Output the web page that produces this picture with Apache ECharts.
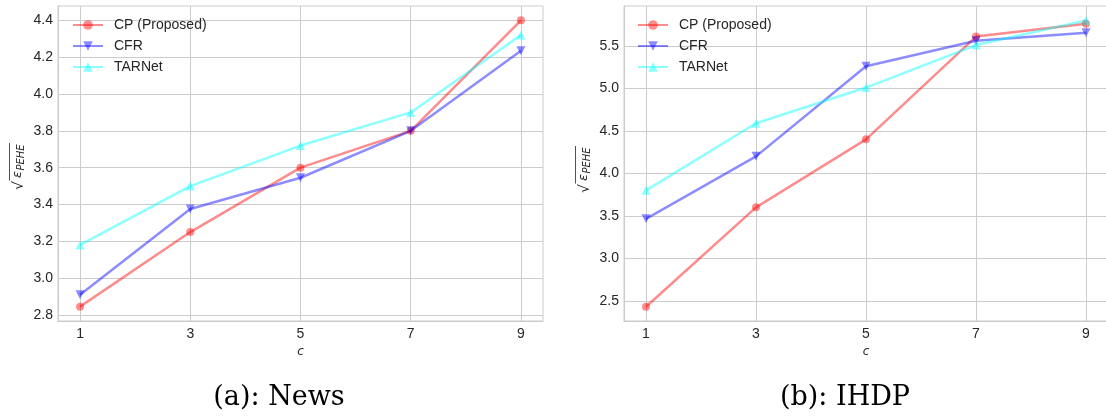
<!DOCTYPE html>
<html>
<head>
<meta charset="utf-8">
<script src="https://cdn.jsdelivr.net/npm/echarts@6/dist/echarts.min.js"></script>
<style>
html,body{margin:0;padding:0;background:#fff;}
#chart{width:1106px;height:418px;}
</style>
</head>
<body>
<div id="chart"></div>
<script>
// ---- data ----
const cValues = [1, 3, 5, 7, 9];
const xTicks = [1, 3, 5, 7, 9];
const seriesNames = ['CP (Proposed)', 'CFR', 'TARNet'];

const newsCP = [2.845, 3.25, 3.60, 3.80, 4.40];
const newsCFR = [2.91, 3.375, 3.545, 3.80, 4.235];
const newsTAR = [3.18, 3.50, 3.72, 3.90, 4.32];
const newsYTicks = [2.8, 3.0, 3.2, 3.4, 3.6, 3.8, 4.0, 4.2, 4.4];

const ihdpCP = [2.43, 3.60, 4.40, 5.61, 5.76];
const ihdpCFR = [3.465, 4.20, 5.26, 5.56, 5.655];
const ihdpTAR = [3.80, 4.59, 5.01, 5.51, 5.80];
const ihdpYTicks = [2.5, 3.0, 3.5, 4.0, 4.5, 5.0, 5.5];

const captions = ['(a): News', '(b): IHDP'];

// ---- build ----
const colors = ['rgb(255,0,0)', 'rgb(0,0,255)', 'rgb(0,255,255)'];
const symbols = ['circle', 'triangle', 'triangle'];
const rotates = [0, 180, 0];
const symSizes = [8, 9, 9];
const gridColor = '#cccccc';
const txtColor = '#262626';

function pairs(ys) { return cValues.map((c, i) => [c, ys[i]]); }

const panels = [
  { grid: { left: 58, top: 6, width: 485, height: 315 }, ymin: 2.767, ymax: 4.478, yTicks: newsYTicks, data: [newsCP, newsCFR, newsTAR], legendLeft: 72 },
  { grid: { left: 624, top: 6, width: 484, height: 315 }, ymin: 2.262, ymax: 5.97, yTicks: ihdpYTicks, data: [ihdpCP, ihdpCFR, ihdpTAR], legendLeft: 637 }
];

const option = {
  backgroundColor: '#ffffff',
  animation: false,
  grid: [], xAxis: [], yAxis: [], series: [], legend: [], graphic: []
};

panels.forEach((p, k) => {
  option.grid.push(Object.assign({ show: true, borderColor: gridColor, borderWidth: 1, containLabel: false, outerBoundsMode: 'none' }, p.grid));
  option.xAxis.push({
    type: 'value', gridIndex: k, min: 0.6, max: 9.4,
    name: 'c', nameLocation: 'middle', nameGap: 22,
    nameTextStyle: { fontFamily: 'DejaVu Sans', fontStyle: 'italic', fontSize: 12, color: txtColor },
    axisLine: { show: true, lineStyle: { color: gridColor, width: 1 } },
    axisTick: { show: false, customValues: xTicks },
    axisLabel: { customValues: xTicks, fontFamily: 'Liberation Sans', fontSize: 14, color: txtColor, margin: 6, formatter: v => String(v) },
    splitLine: { show: true, lineStyle: { color: gridColor, width: 1 } }
  });
  option.yAxis.push({
    type: 'value', gridIndex: k, min: p.ymin, max: p.ymax,
    axisLine: { show: true, lineStyle: { color: gridColor, width: 1 } },
    axisTick: { show: false, customValues: p.yTicks },
    axisLabel: { customValues: p.yTicks, fontFamily: 'Liberation Sans', fontSize: 14, color: txtColor, margin: 5, formatter: v => v.toFixed(1) },
    splitLine: { show: true, lineStyle: { color: gridColor, width: 1 } }
  });
  p.data.forEach((ys, j) => {
    option.series.push({
      type: 'line', name: seriesNames[j], xAxisIndex: k, yAxisIndex: k,
      data: pairs(ys), symbol: symbols[j], symbolSize: symSizes[j], symbolRotate: rotates[j],
      showAllSymbol: true,
      itemStyle: { color: colors[j], opacity: 0.45 },
      lineStyle: { color: colors[j], width: 2.5, opacity: 0.45 },
      emphasis: { disabled: true }
    });
  });
  option.legend.push({
    seriesIndex: [k * 3, k * 3 + 1, k * 3 + 2],
    data: seriesNames.map(n => ({ name: n })),
    orient: 'vertical', left: p.legendLeft, top: 18, padding: 0,
    itemWidth: 30, itemHeight: 12, itemGap: 7,
    selectedMode: false,
    textStyle: { fontFamily: 'Liberation Sans', fontSize: 14, color: txtColor, lineHeight: 12, padding: [0, 0, 0, 6] }
  });
});

// y axis labels (sqrt eps_PEHE)
function yLabel(x, y) {
  return {
    type: 'group', x: x, y: y, rotation: Math.PI / 2,
    children: [
      { type: 'text', x: 0, y: 1, style: { text: '√', font: '14px "DejaVu Sans"', fill: txtColor, verticalAlign: 'middle' } },
      { type: 'text', x: 12, y: 0, style: { text: 'ε', font: 'italic 13px "DejaVu Sans"', fill: txtColor, verticalAlign: 'middle' } },
      { type: 'text', x: 19.5, y: 3, style: { text: 'PEHE', font: 'italic 10px "DejaVu Sans"', fill: txtColor, verticalAlign: 'middle' } },
      { type: 'line', shape: { x1: 9.5, y1: -8.5, x2: 47, y2: -8.5 }, style: { stroke: txtColor, lineWidth: 0.8 } }
    ]
  };
}
option.graphic.push(yLabel(18, 190));
option.graphic.push(yLabel(584, 193));

option.graphic.push({ type: 'text', x: 279, y: 398, style: { text: captions[0], font: '27px "DejaVu Serif"', fill: '#000', align: 'center', verticalAlign: 'middle' } });
option.graphic.push({ type: 'text', x: 845, y: 398, style: { text: captions[1], font: '27px "DejaVu Serif"', fill: '#000', align: 'center', verticalAlign: 'middle' } });

const chart = echarts.init(document.getElementById('chart'), null, { renderer: 'canvas' });
chart.setOption(option);
</script>
</body>
</html>
